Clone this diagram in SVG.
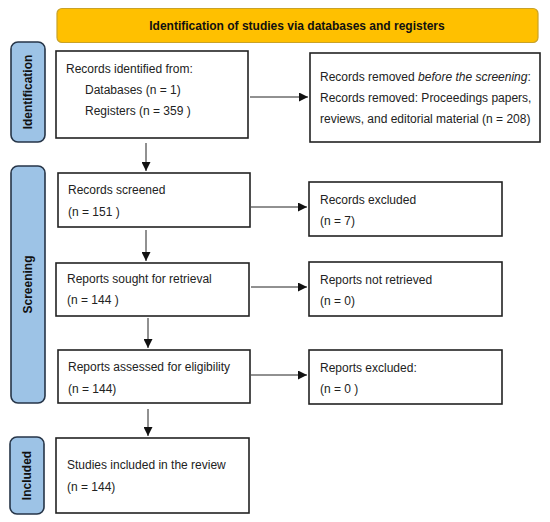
<svg xmlns="http://www.w3.org/2000/svg" width="550" height="522" viewBox="0 0 550 522">
<style>
text{font-family:"Liberation Sans",Arial,sans-serif;font-size:12px;fill:#222}
.box{fill:#fff;stroke:#222;stroke-width:1.6}
.side{fill:#9DC3E6;stroke:#263548;stroke-width:1.6}
.lab{font-weight:bold;font-size:12px;fill:#111}
.con{stroke:#222;stroke-width:1;fill:none;marker-end:url(#ah)}
</style>
<defs>
<marker id="ah" viewBox="0 0 10 10" refX="10" refY="5" markerWidth="9" markerHeight="9" markerUnits="userSpaceOnUse" orient="auto">
<path d="M0,0 L10,5 L0,10 z" fill="#111"/>
</marker>
</defs>
<rect width="550" height="522" fill="#fff"/>
<g id="banner">
<rect x="57" y="8.5" width="481" height="34" rx="5" fill="#FFC000" stroke="#C9A227" stroke-width="1.2"/>
<text x="297" y="30" text-anchor="middle" class="lab">Identification of studies via databases and registers</text>
</g>
<g id="side-identification">
<rect class="side" x="11" y="42" width="34" height="100" rx="7"/>
<text class="lab" transform="translate(32,92) rotate(-90)" text-anchor="middle">Identification</text>
</g>
<g id="side-screening">
<rect class="side" x="11" y="166" width="34" height="237" rx="7"/>
<text class="lab" transform="translate(32,284.5) rotate(-90)" text-anchor="middle">Screening</text>
</g>
<g id="side-included">
<rect class="side" x="10" y="437" width="34" height="77" rx="7"/>
<text class="lab" transform="translate(31,475.5) rotate(-90)" text-anchor="middle">Included</text>
</g>
<g id="identified">
<rect class="box" x="56" y="51" width="192" height="87"/>
<text x="66" y="73">Records identified from:</text>
<text x="85" y="94">Databases (n = 1)</text>
<text x="85" y="115">Registers (n = 359 )</text>
</g>
<g id="removed">
<rect class="box" x="310" y="53" width="230" height="89"/>
<text x="320" y="81">Records removed <tspan font-style="italic">before the screening</tspan>:</text>
<text x="320" y="102">Records removed: Proceedings papers,</text>
<text x="320" y="123">reviews, and editorial material (n = 208)</text>
</g>
<g id="screened">
<rect class="box" x="58" y="173" width="192" height="54"/>
<text x="68" y="194">Records screened</text>
<text x="68" y="216">(n = 151 )</text>
</g>
<g id="excluded">
<rect class="box" x="309" y="182" width="193" height="54"/>
<text x="320" y="204">Records excluded</text>
<text x="320" y="225">(n = 7)</text>
</g>
<g id="sought">
<rect class="box" x="56" y="263" width="193" height="53"/>
<text x="67" y="283">Reports sought for retrieval</text>
<text x="67" y="304">(n = 144 )</text>
</g>
<g id="notretrieved">
<rect class="box" x="309" y="262" width="193" height="54"/>
<text x="320" y="284">Reports not retrieved</text>
<text x="320" y="305">(n = 0)</text>
</g>
<g id="assessed">
<rect class="box" x="58" y="350" width="192" height="53"/>
<text x="68" y="371">Reports assessed for eligibility</text>
<text x="68" y="393">(n = 144)</text>
</g>
<g id="repexcluded">
<rect class="box" x="309" y="350" width="193" height="54"/>
<text x="320" y="372">Reports excluded:</text>
<text x="320" y="393">(n = 0 )</text>
</g>
<g id="included">
<rect class="box" x="56" y="438" width="193" height="75"/>
<text x="67" y="469">Studies included in the review</text>
<text x="67" y="491">(n = 144)</text>
</g>
<g id="connectors">
<line class="con" x1="250" y1="97" x2="308" y2="97"/>
<line class="con" x1="146" y1="143" x2="146" y2="171"/>
<line class="con" x1="251" y1="207" x2="307" y2="207"/>
<line class="con" x1="146" y1="230" x2="146" y2="261"/>
<line class="con" x1="251" y1="287" x2="307" y2="287"/>
<line class="con" x1="148" y1="318" x2="148" y2="348"/>
<line class="con" x1="251" y1="375" x2="307" y2="375"/>
<line class="con" x1="148" y1="409" x2="148" y2="436"/>
</g>
</svg>
